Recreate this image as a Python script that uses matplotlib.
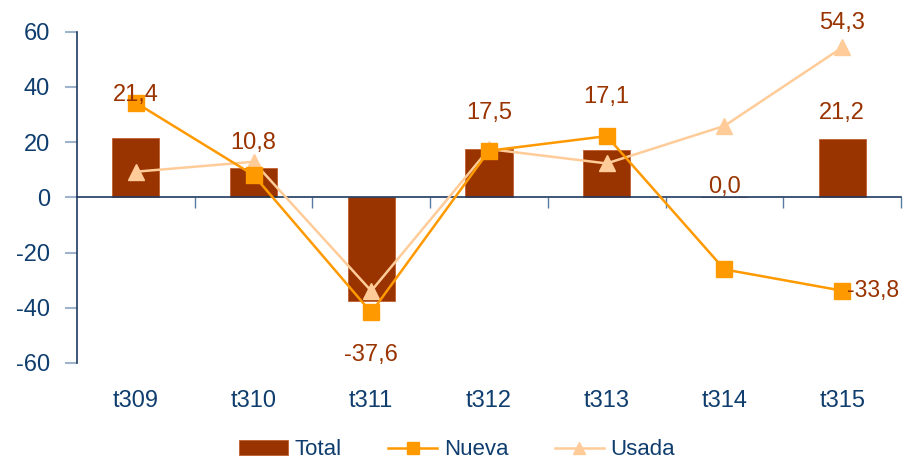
import numpy as np
import matplotlib.pyplot as plt
from matplotlib.transforms import blended_transform_factory

plt.rcParams['font.family'] = ['Liberation Sans', 'DejaVu Sans']
plt.rcParams['axes.unicode_minus'] = False

# data
periodos = ['t309', 't310', 't311', 't312', 't313', 't314', 't315']
total = [21.4, 10.8, -37.6, 17.5, 17.1, 0.0, 21.2]
nueva = [34.3, 8.1, -41.7, 16.9, 22.2, -26.1, -33.8]
usada = [9.3, 12.9, -33.9, 17.5, 12.3, 25.9, 54.3]

# label offsets for the Total values (data units)
offTotal = [15.6, 9.0, -19.5, 13.0, 19.3, 3.7, 9.3]

NAVY = '#0F3D6E'
BROWN = '#993300'

fig = plt.figure(figsize=(9.05, 4.61), dpi=100)
ax = fig.add_axes([0.085, 0.2126, 0.9106, 0.7185])

x = np.arange(len(periodos))
hb = ax.bar(x, total, width=0.40, color=BROWN, edgecolor='#C06030', linewidth=0.6,
            label='Total', zorder=2)
hn, = ax.plot(x, nueva, color='#FF9900', lw=1.8, marker='s', markersize=11,
              label='Nueva', zorder=4)
hu, = ax.plot(x, usada, color='#FFCC99', lw=1.8, marker='^', markersize=12,
              label='Usada', zorder=3)

ax.set_xlim(-0.5, len(periodos) - 0.5)
ax.set_ylim(-60, 60)
ax.set_yticks(np.arange(-60, 61, 20))
ax.tick_params(axis='y', labelsize=17, labelcolor=NAVY, color='#9FB4CB',
               length=9, width=1.5, pad=10.5)

for s in ['top', 'right']:
    ax.spines[s].set_visible(False)
ax.spines['left'].set_color('#1F3A60')
ax.spines['left'].set_linewidth(1.2)
ax.spines['bottom'].set_position(('data', 0))
ax.spines['bottom'].set_color('#1F3A60')
ax.spines['bottom'].set_linewidth(1.2)

# ticks at category boundaries on the zero line
ax.set_xticks(np.arange(0.5, len(periodos) - 0.5 + 0.01, 1.0))
ax.set_xticklabels([])
ax.tick_params(axis='x', color='#5A7BA0', length=8, width=1.0, direction='out')

trans = blended_transform_factory(ax.transData, ax.transAxes)
for i, p in enumerate(periodos):
    ax.text(i, -0.114, p, transform=trans, ha='center', va='center',
            fontsize=17, color=NAVY)

for i, v in enumerate(total):
    ax.text(i, v + offTotal[i], ('%.1f' % v).replace('.', ','), ha='center',
            va='center', fontsize=17, color=BROWN, zorder=5)

ax.text(len(periodos) - 1, usada[-1] + 9, ('%.1f' % usada[-1]).replace('.', ','),
        ha='center', va='center', fontsize=17, color=BROWN)
ax.text(len(periodos) - 1 + 0.04, nueva[-1], ('%.1f' % nueva[-1]).replace('.', ','),
        ha='left', va='center', fontsize=16.5, color=BROWN, zorder=6)

leg = fig.legend([hb, hn, hu], ['Total', 'Nueva', 'Usada'], loc='center',
                 bbox_to_anchor=(0.505, 0.024), ncol=3, frameon=False,
                 fontsize=16, handlelength=2.2, columnspacing=2.1, handletextpad=0.3,
                 markerscale=0.75)
for t in leg.get_texts():
    t.set_color(NAVY)

fig.savefig('out.png', dpi=100)
